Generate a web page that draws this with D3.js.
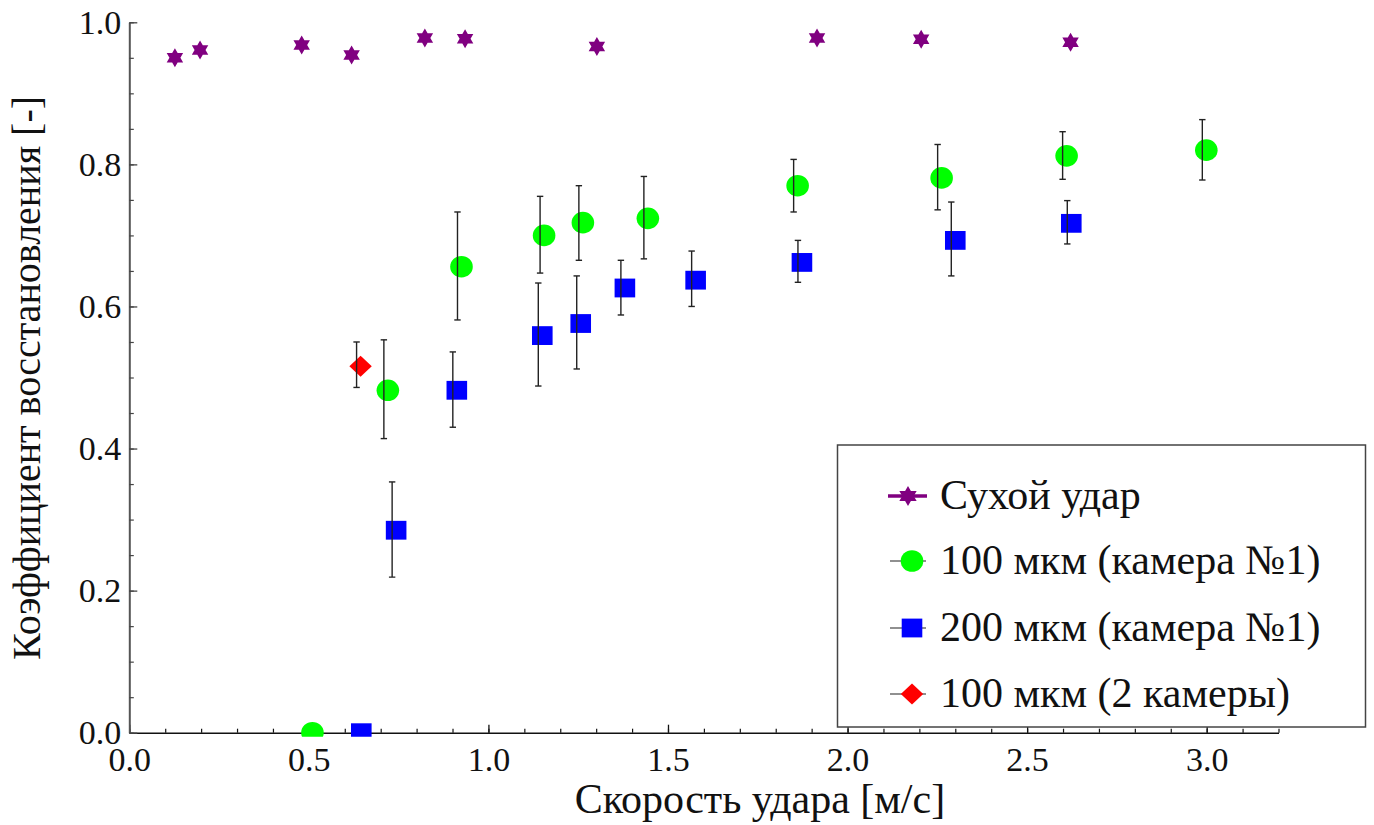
<!DOCTYPE html>
<html>
<head>
<meta charset="utf-8">
<script src="https://cdn.jsdelivr.net/npm/d3@7"></script>
<style>
  body { margin: 0; background: #fff; }
  text { font-family: "Liberation Serif", "Times New Roman", serif; }
</style>
</head>
<body>
<svg id="chart" width="1374" height="825"></svg>
<script>
// series: dry impact (stars)
const dryX = [0.127, 0.197, 0.480, 0.619, 0.823, 0.935, 1.302, 1.915, 2.205, 2.621];
const dryY = [0.950, 0.961, 0.968, 0.954, 0.978, 0.977, 0.966, 0.978, 0.976, 0.972];

// 100 um, camera 1 (green circles)
const g100X  = [0.510, 0.720, 0.925, 1.155, 1.263, 1.444, 1.861, 2.262, 2.610, 2.999];
const g100Y  = [0.000, 0.482, 0.656, 0.700, 0.718, 0.724, 0.770, 0.781, 0.812, 0.820];
const g100Lo = [null,  0.414, 0.581, 0.647, 0.665, 0.667, 0.733, 0.736, 0.779, 0.778];
const g100Hi = [null,  0.553, 0.733, 0.755, 0.770, 0.783, 0.807, 0.828, 0.846, 0.863];

// 200 um, camera 1 (blue squares)
const b200X  = [0.646, 0.743, 0.912, 1.150, 1.257, 1.380, 1.577, 1.873, 2.300, 2.623];
const b200Y  = [0.000, 0.285, 0.482, 0.559, 0.576, 0.626, 0.637, 0.662, 0.693, 0.717];
const b200Lo = [null,  0.219, 0.430, 0.488, 0.512, 0.588, 0.600, 0.634, 0.643, 0.688];
const b200Hi = [null,  0.353, 0.536, 0.633, 0.643, 0.665, 0.678, 0.693, 0.747, 0.749];

// 100 um, 2 cameras (red diamond)
const r2X  = [0.644];
const r2Y  = [0.516];
const r2Lo = [0.486];
const r2Hi = [0.550];

const legendLabels = ["Сухой удар", "100 мкм (камера №1)", "200 мкм (камера №1)", "100 мкм (2 камеры)"];
const xMajorTicks = [0, 0.5, 1.0, 1.5, 2.0, 2.5, 3.0];
const yMajorTicks = [0, 0.2, 0.4, 0.6, 0.8, 1.0];

const FONT = "'Liberation Serif', 'Times New Roman', serif";

const svg = d3.select("#chart");

const x = d3.scaleLinear().domain([0, 3.2]).range([129.3, 1278.5]);
const y = d3.scaleLinear().domain([0, 1]).range([732.7, 22.3]);

function zip(xs, ys, lo, hi) {
  return xs.map((v, i) => ({x: v, y: ys[i], lo: lo ? lo[i] : null, hi: hi ? hi[i] : null}));
}
const dry = zip(dryX, dryY);
const g100 = zip(g100X, g100Y, g100Lo, g100Hi);
const b200 = zip(b200X, b200Y, b200Lo, b200Hi);
const r2 = zip(r2X, r2Y, r2Lo, r2Hi);

// six-pointed star
function hexagram(R) {
  let pts = [];
  for (let i = 0; i < 12; i++) {
    let a = -Math.PI / 2 + i * Math.PI / 6;
    let r = i % 2 === 0 ? R : R / Math.sqrt(3);
    pts.push([r * Math.cos(a), r * Math.sin(a)]);
  }
  return "M" + pts.map(p => p[0].toFixed(2) + "," + p[1].toFixed(2)).join("L") + "Z";
}

// axes
let xAxis = svg.append("g")
  .attr("transform", "translate(0," + y(0) + ")")
  .call(d3.axisBottom(x).tickValues(xMajorTicks).tickFormat(d3.format(".1f"))
    .tickSizeInner(-8).tickSizeOuter(0).tickPadding(14));
xAxis.attr("font-family", FONT);
xAxis.select(".domain").attr("stroke", "#111").attr("stroke-width", 1.6);
xAxis.selectAll(".tick line").attr("stroke", "#111").attr("stroke-width", 1.3);
xAxis.selectAll("text").attr("font-size", 34).attr("fill", "#111");

svg.append("g")
  .attr("transform", "translate(0," + y(0) + ")")
  .call(d3.axisBottom(x).ticks(32).tickFormat("").tickSizeInner(-4).tickSizeOuter(0))
  .call(g => g.select(".domain").remove())
  .selectAll(".tick line").attr("stroke", "#111").attr("stroke-width", 1.2);

let yAxis = svg.append("g")
  .attr("transform", "translate(" + x(0) + ",0)")
  .call(d3.axisLeft(y).tickValues(yMajorTicks).tickFormat(d3.format(".1f"))
    .tickSizeInner(-8).tickSizeOuter(0).tickPadding(8));
yAxis.attr("font-family", FONT);
yAxis.select(".domain").attr("stroke", "#555").attr("stroke-width", 2);
yAxis.selectAll(".tick line").attr("stroke", "#444").attr("stroke-width", 1.3);
yAxis.selectAll("text").attr("font-size", 34).attr("fill", "#111");

svg.append("g")
  .attr("transform", "translate(" + x(0) + ",0)")
  .call(d3.axisLeft(y).ticks(20).tickFormat("").tickSizeInner(-4.5).tickSizeOuter(0))
  .call(g => g.select(".domain").remove())
  .selectAll(".tick line").attr("stroke", "#444").attr("stroke-width", 1.2);

// axis titles
svg.append("text")
  .attr("x", 760).attr("y", 813)
  .attr("text-anchor", "middle")
  .attr("font-size", 42).attr("fill", "#111")
  .text("Скорость удара [м/с]");

svg.append("text")
  .attr("transform", "translate(40,378) rotate(-90)")
  .attr("text-anchor", "middle")
  .attr("font-size", 40).attr("fill", "#111")
  .text("Коэффициент восстановления [-]");

// plot area clip (markers at y=0 are cut just below the axis)
svg.append("clipPath").attr("id", "plotClip")
  .append("rect").attr("x", x(0)).attr("y", 0)
  .attr("width", x(3.2) - x(0)).attr("height", y(0) + 4);

let plot = svg.append("g").attr("clip-path", "url(#plotClip)");

plot.selectAll(".star").data(dry).join("path")
  .attr("class", "star")
  .attr("d", hexagram(9.5))
  .attr("transform", d => "translate(" + x(d.x) + "," + y(d.y) + ")")
  .attr("fill", "#800080");

plot.selectAll(".circ").data(g100).join("ellipse")
  .attr("class", "circ")
  .attr("cx", d => x(d.x)).attr("cy", d => y(d.y))
  .attr("rx", 11.3).attr("ry", 10.8)
  .attr("fill", "#00ff00");

plot.selectAll(".sq").data(b200).join("rect")
  .attr("class", "sq")
  .attr("x", d => x(d.x) - 10.3).attr("y", d => y(d.y) - 9.4)
  .attr("width", 20.6).attr("height", 18.8)
  .attr("fill", "#0000ff");

plot.selectAll(".dia").data(r2).join("path")
  .attr("class", "dia")
  .attr("d", "M0,-10.5L11.2,0L0,10.5L-11.2,0Z")
  .attr("transform", d => "translate(" + x(d.x) + "," + y(d.y) + ")")
  .attr("fill", "#ff0000");

// error bars, drawn over the markers, slightly shifted left
function errorBars(data) {
  let g = plot.append("g").attr("transform", "translate(-4,0)")
    .attr("stroke", "#222").attr("stroke-width", 1.4).attr("fill", "none");
  let eb = data.filter(d => d.lo !== null);
  g.selectAll(".v").data(eb).join("line")
    .attr("x1", d => x(d.x)).attr("x2", d => x(d.x))
    .attr("y1", d => y(d.lo)).attr("y2", d => y(d.hi));
  g.selectAll(".cl").data(eb).join("line")
    .attr("x1", d => x(d.x) - 3.2).attr("x2", d => x(d.x) + 3.2)
    .attr("y1", d => y(d.lo)).attr("y2", d => y(d.lo));
  g.selectAll(".ch").data(eb).join("line")
    .attr("x1", d => x(d.x) - 3.2).attr("x2", d => x(d.x) + 3.2)
    .attr("y1", d => y(d.hi)).attr("y2", d => y(d.hi));
}
errorBars(g100);
errorBars(b200);
errorBars(r2);

// legend
let legend = svg.append("g");
legend.append("rect")
  .attr("x", 837.5).attr("y", 445).attr("width", 528).attr("height", 282)
  .attr("fill", "#fff").attr("stroke", "#444").attr("stroke-width", 1.5);

let legY = [496, 561, 628, 694];
let lx = 910;

legend.append("line").attr("x1", 888).attr("x2", 927).attr("y1", legY[0]).attr("y2", legY[0])
  .attr("stroke", "#800080").attr("stroke-width", 3.5);
legend.append("path").attr("d", hexagram(10)).attr("transform", "translate(" + (lx - 2) + "," + legY[0] + ")")
  .attr("fill", "#800080");

[1, 2, 3].forEach(i => {
  legend.append("line").attr("x1", 890).attr("x2", 926).attr("y1", legY[i]).attr("y2", legY[i])
    .attr("stroke", "#222").attr("stroke-width", 1.2);
});
legend.append("ellipse").attr("cx", lx + 2).attr("cy", legY[1]).attr("rx", 11.3).attr("ry", 10.8).attr("fill", "#00ff00");
legend.append("rect").attr("x", lx + 2 - 10.3).attr("y", legY[2] - 9.4).attr("width", 20.6).attr("height", 18.8).attr("fill", "#0000ff");
legend.append("path").attr("d", "M0,-10.5L11.2,0L0,10.5L-11.2,0Z")
  .attr("transform", "translate(" + (lx + 2) + "," + legY[3] + ")").attr("fill", "#ff0000");

legendLabels.forEach((t, i) => {
  legend.append("text")
    .attr("x", 940).attr("y", legY[i] + 13)
    .attr("font-size", 42).attr("fill", "#111")
    .text(t);
});
</script>
</body>
</html>
